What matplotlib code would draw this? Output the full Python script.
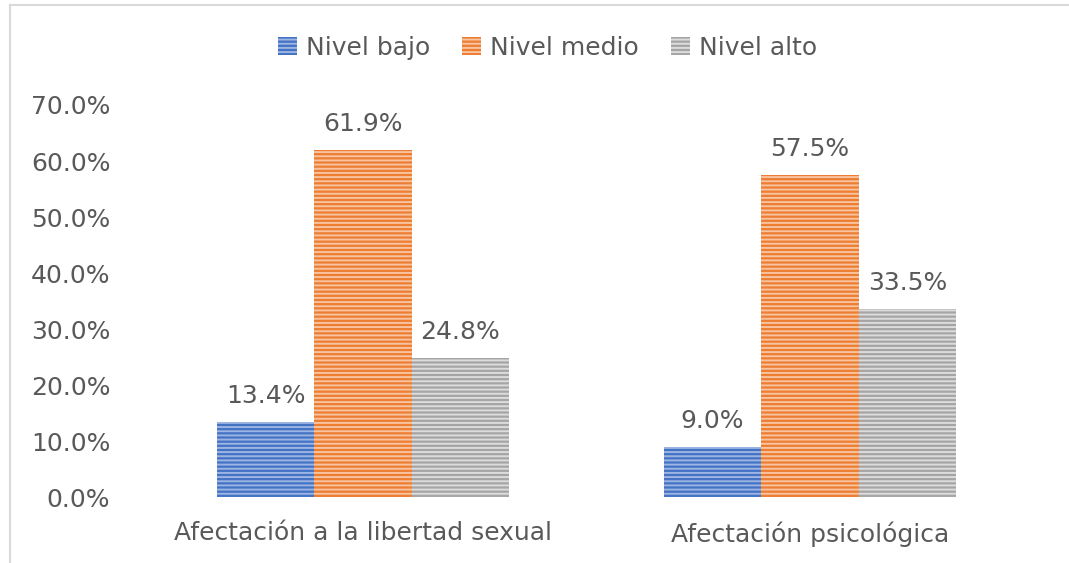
import matplotlib.pyplot as plt
from matplotlib.lines import Line2D
from matplotlib.ticker import FuncFormatter
import numpy as np

categories = ["Afectación a la libertad sexual", "Afectación psicológica"]
series = ["Nivel bajo", "Nivel medio", "Nivel alto"]
bajo = [13.4, 9.0]
medio = [61.9, 57.5]
alto = [24.8, 33.5]

colors = ["#4472C4", "#ED7D31", "#A5A5A5"]
stripes = ["#9DB5E3", "#F8C3A0", "#DCDCDC"]
txt = "#595959"

plt.rcParams["font.family"] = "DejaVu Sans"
plt.rcParams["hatch.linewidth"] = 1.4

fig = plt.figure(figsize=(10.69, 5.63), dpi=100)
ax = fig.add_axes([0.1305, 0.1172, 0.8363, 0.6963])

x = np.arange(len(categories))
w = 0.218
for i, (name, vals) in enumerate(zip(series, [bajo, medio, alto])):
    bars = ax.bar(x + (i - 1) * w, vals, w, color=colors[i], edgecolor=stripes[i],
                  linewidth=0, hatch="----", label=name)
    for b, v in zip(bars, vals):
        ax.annotate(f"{v:.1f}%", (b.get_x() + b.get_width() / 2, v),
                    xytext=(0, 26), textcoords="offset pixels",
                    ha="center", va="center", fontsize=18, color=txt)

ax.set_xlim(-0.5, 1.5)
ax.set_ylim(0, 70)
ax.set_yticks(np.arange(0, 71, 10))
ax.yaxis.set_major_formatter(FuncFormatter(lambda v, p: f"{v:.1f}%"))
ax.set_xticks(x)
ax.set_xticklabels(categories)
ax.tick_params(axis="y", length=0, pad=21, labelsize=18, labelcolor=txt)
ax.tick_params(axis="x", length=0, pad=17.5, labelsize=18, labelcolor=txt)
for s in ax.spines.values():
    s.set_visible(False)

ax.legend(loc="center", bbox_to_anchor=(0.512, 0.915), bbox_transform=fig.transFigure,
          ncol=3, frameon=False, fontsize=18, labelcolor=txt,
          handlelength=0.75, handleheight=0.75, handletextpad=0.35, columnspacing=1.3)

# chart border (top and left edges visible)
fig.add_artist(Line2D([0.0095, 0.0095], [0, 0.991], color="#D9D9D9", lw=1.5,
                      transform=fig.transFigure))
fig.add_artist(Line2D([0.0095, 1.0], [0.991, 0.991], color="#D9D9D9", lw=1.5,
                      transform=fig.transFigure))

fig.savefig("out.png", dpi=100)
